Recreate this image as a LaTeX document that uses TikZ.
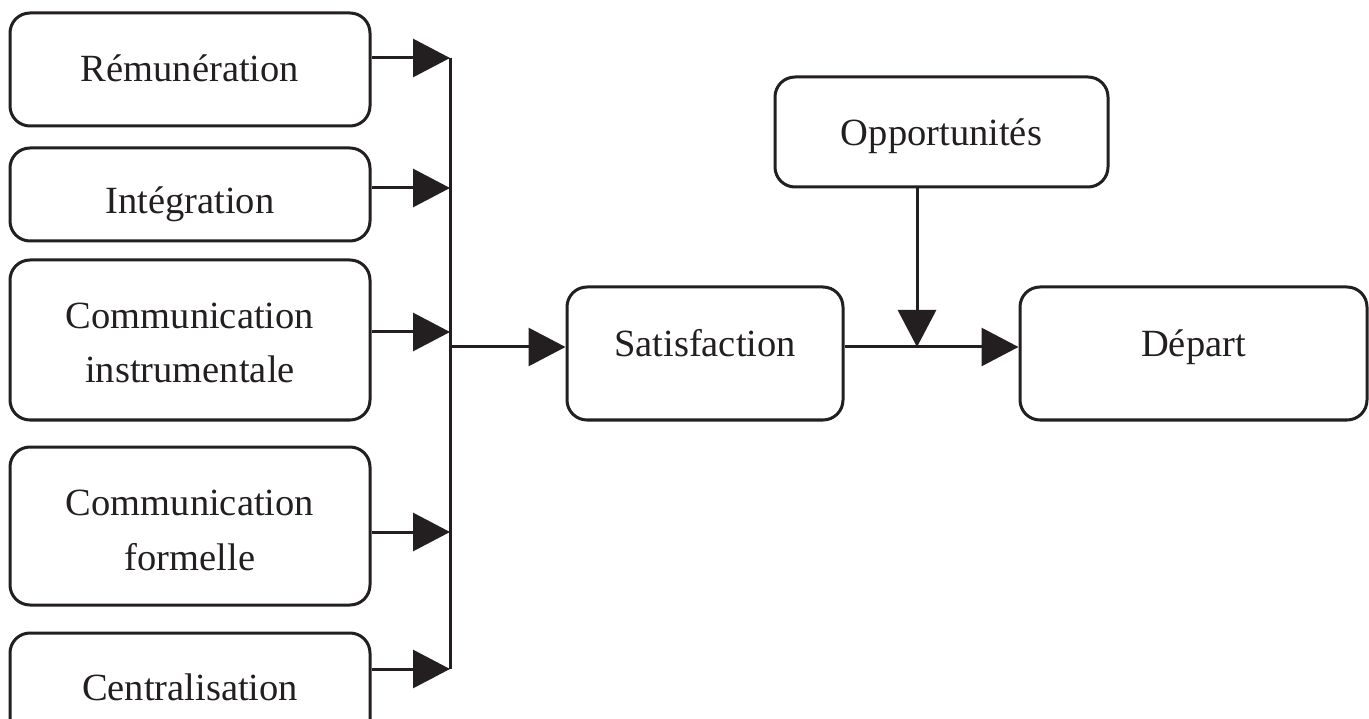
\documentclass[tikz,border=0pt]{standalone}
\usepackage{fontspec}
\setmainfont{Liberation Serif}
\usetikzlibrary{arrows.meta}
\definecolor{ink}{HTML}{231F20}
\begin{document}
\begin{tikzpicture}[x=1pt,y=-1pt,
  box/.style={draw=ink, line width=3pt, rounded corners=20pt, fill=white,
    text=ink, align=center, inner sep=0pt,
    font=\fontsize{38.5}{54.5}\selectfont},
  % last baseline placed half of #1 below the box centre
  lowered/.style={text depth=0pt, text height=#1},
  arr/.style={draw=ink, line width=3pt,
    -{Triangle[length=37pt,width=38pt]}},
  wire/.style={draw=ink, line width=3pt}]
\useasboundingbox (0,0) rectangle (1369,719);

% factor boxes on the left
\node[box, lowered=24pt, minimum width=360pt, minimum height=113pt] (rem)   at (190,69.5)  {Rémunération};
\node[box, lowered=39pt, minimum width=360pt, minimum height=93pt]  (integ) at (190,194.5) {Intégration};
\node[box, lowered=86pt, minimum width=360pt, minimum height=160pt] (ci)    at (190,340)   {Communication\\instrumentale};
\node[box, lowered=88pt, minimum width=360pt, minimum height=158pt] (cf)    at (190,526)   {Communication\\formelle};
\node[box, lowered=21pt, minimum width=360pt, minimum height=113pt] (cent)  at (190,689.5) {Centralisation};

% right-hand boxes
\node[box, lowered=7pt,  minimum width=276pt, minimum height=133pt] (sat) at (705,353.5)    {Satisfaction};
\node[box, lowered=28pt, minimum width=333pt, minimum height=110pt] (opp) at (941.5,132)    {Opportunités};
\node[box, lowered=7pt,  minimum width=347pt, minimum height=133pt] (dep) at (1193.5,353.5) {Départ};

% collecting bus
\coordinate (b1) at (450,58);
\coordinate (b2) at (450,188);
\coordinate (b3) at (450,332);
\coordinate (bo) at (450,347);
\coordinate (b4) at (450,532);
\coordinate (b5) at (450,669);
\coordinate (m)  at (917,347);

\draw[wire] (b1) -- (b5);
\draw[arr] (rem.east |- b1) -- (b1);
\draw[arr] (integ.east |- b2) -- (b2);
\draw[arr] (ci.east |- b3) -- (b3);
\draw[arr] (cf.east |- b4) -- (b4);
\draw[arr] (cent.east |- b5) -- (b5);

% main chain
\draw[arr] (bo) -- (sat.west |- bo);
\draw[arr] (sat.east |- m) -- (dep.west |- m);
\draw[arr] (opp.south -| m) -- (m);
\end{tikzpicture}
\end{document}
